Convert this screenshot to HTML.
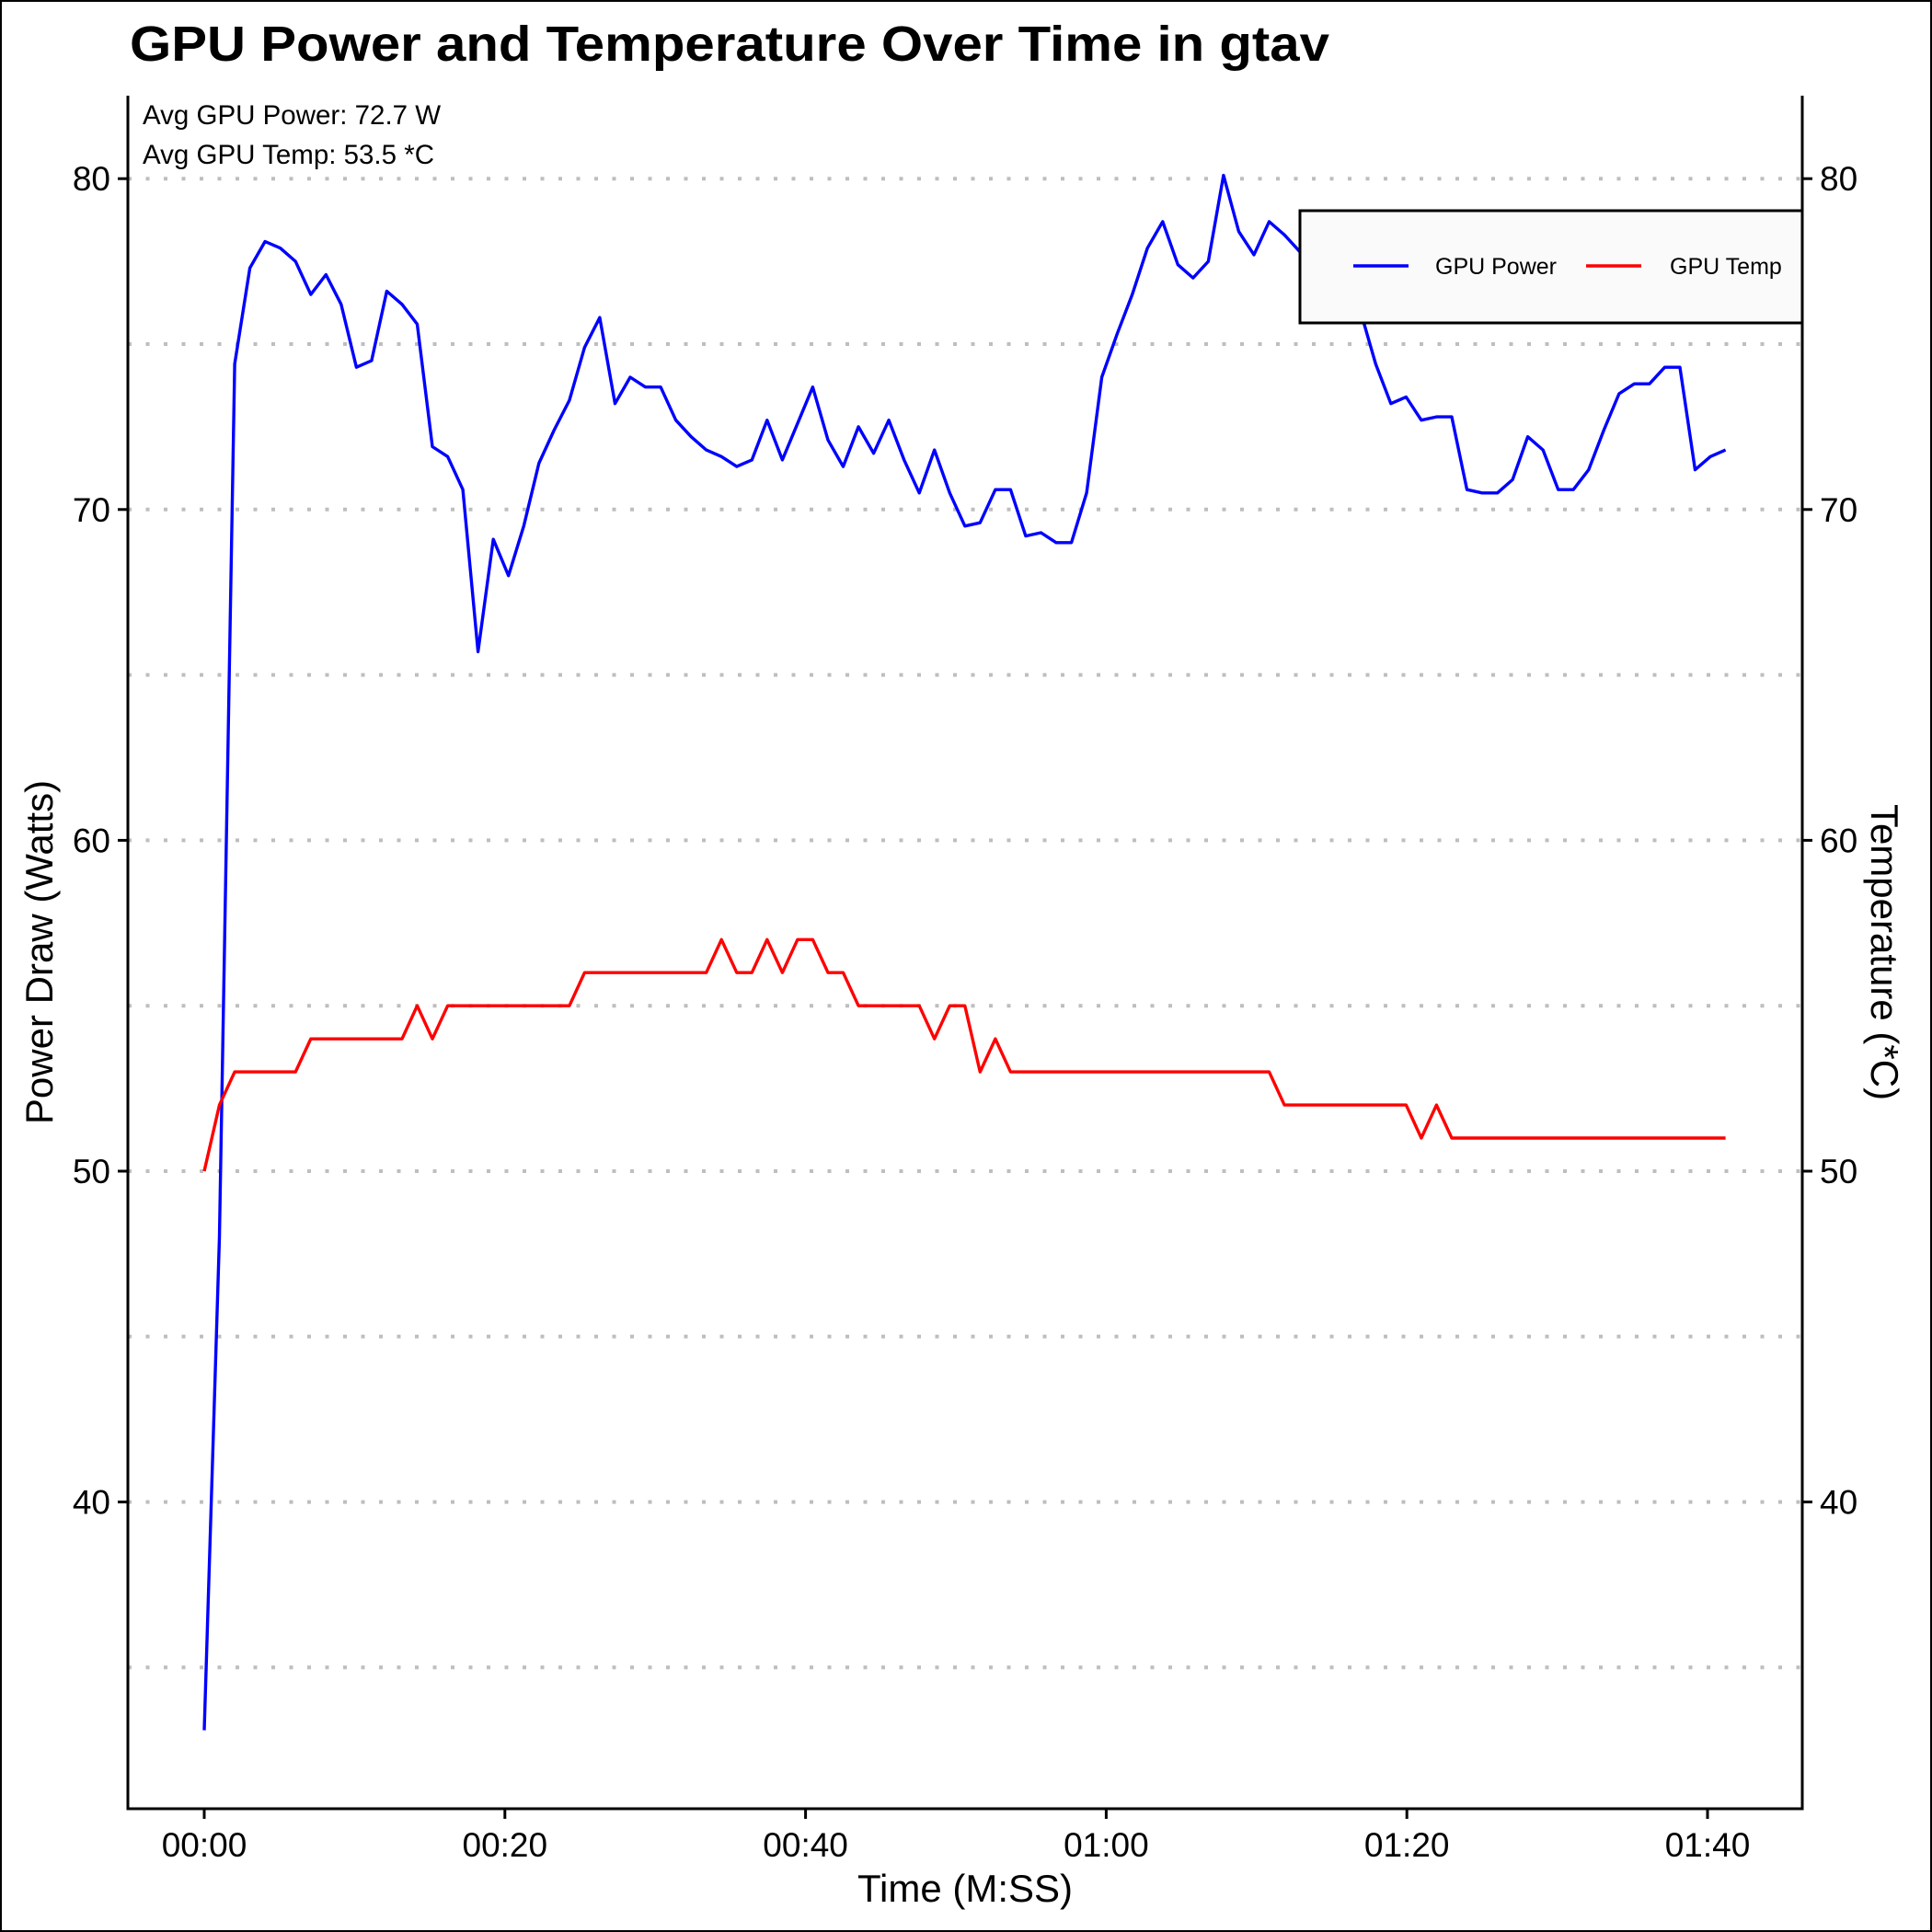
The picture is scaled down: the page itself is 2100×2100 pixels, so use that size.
<!DOCTYPE html>
<html><head><meta charset="utf-8"><style>
html,body{margin:0;padding:0;background:#fff;}
svg{display:block;font-family:"Liberation Sans",Arial,sans-serif;}
</style></head><body>
<svg id="chart" width="2100" height="2100" viewBox="0 0 2100 2100" xmlns="http://www.w3.org/2000/svg">
<rect x="1" y="1" width="2098" height="2098" fill="#fff" stroke="#000" stroke-width="2"/>
<text x="141" y="66" font-size="54" font-weight="bold" textLength="1304" lengthAdjust="spacingAndGlyphs">GPU Power and Temperature Over Time in gtav</text>
<g id="grid"></g>
<g id="series"></g>
<g id="axes"></g>
<text x="155" y="135" font-size="29.5">Avg GPU Power: 72.7 W</text>
<text x="155" y="178" font-size="29.5">Avg GPU Temp: 53.5 *C</text>
<text x="1049" y="2067" font-size="42" text-anchor="middle">Time (M:SS)</text>
<text transform="translate(57,1035) rotate(-90)" font-size="42" text-anchor="middle">Power Draw (Watts)</text>
<text transform="translate(2034,1035) rotate(90)" font-size="42" text-anchor="middle">Temperature (*C)</text>
<g>
<rect x="1413" y="229" width="546" height="122" fill="#fafafa" stroke="#000" stroke-width="3"/>
<line x1="1471" y1="289" x2="1531" y2="289" stroke="#0000ff" stroke-width="3.4"/>
<text x="1560" y="298" font-size="25">GPU Power</text>
<line x1="1724" y1="289" x2="1784" y2="289" stroke="#ff0000" stroke-width="3.4"/>
<text x="1815" y="298" font-size="25">GPU Temp</text>
</g>
</svg>
<script>
const powerValues = [33.1,48.0,74.4,77.3,78.1,77.9,77.5,76.5,77.1,76.2,74.3,74.5,76.6,76.2,75.6,71.9,71.6,70.6,65.7,69.1,68.0,69.5,71.4,72.4,73.3,74.9,75.8,73.2,74.0,73.7,73.7,72.7,72.2,71.8,71.6,71.3,71.5,72.7,71.5,72.6,73.7,72.1,71.3,72.5,71.7,72.7,71.5,70.5,71.8,70.5,69.5,69.6,70.6,70.6,69.2,69.3,69.0,69.0,70.5,74.0,75.3,76.5,77.9,78.7,77.4,77.0,77.5,80.1,78.4,77.7,78.7,78.3,77.8,77.3,76.8,76.5,76.0,74.4,73.2,73.4,72.7,72.8,72.8,70.6,70.5,70.5,70.9,72.2,71.8,70.6,70.6,71.2,72.4,73.5,73.8,73.8,74.3,74.3,71.2,71.6,71.8];
const tempValues = [50,52,53,53,53,53,53,54,54,54,54,54,54,54,55,54,55,55,55,55,55,55,55,55,55,56,56,56,56,56,56,56,56,56,57,56,56,57,56,57,57,56,56,55,55,55,55,55,54,55,55,53,54,53,53,53,53,53,53,53,53,53,53,53,53,53,53,53,53,53,53,52,52,52,52,52,52,52,52,52,51,52,51,51,51,51,51,51,51,51,51,51,51,51,51,51,51,51,51,51,51];
const sampleSeconds = 1.012;
const xTicks = [0,20,40,60,80,100];
const xTickLabels = ["00:00","00:20","00:40","01:00","01:20","01:40"];
const yTicks = [40,50,60,70,80];
const gridValues = [35,40,45,50,55,60,65,70,75,80];

const NS = "http://www.w3.org/2000/svg";
const X0 = 139, X1 = 1959, Y0 = 104, Y1 = 1966;
function xScale(t){ return 222 + t * 16.34; }
function yScale(v){ return 194.2 + (80 - v) * 35.96; }
function mk(tag, attrs, parent){
  const e = document.createElementNS(NS, tag);
  for (const k in attrs) e.setAttribute(k, attrs[k]);
  parent.appendChild(e);
  return e;
}
const grid = document.getElementById('grid');
gridValues.forEach(v => {
  const l = mk('line', {x1:X0, x2:X1, y1:yScale(v), y2:yScale(v), stroke:'#bebebe', 'stroke-width':4, 'stroke-dasharray':'4 15.5'}, grid);
  
  
});
const series = document.getElementById('series');
function pathFor(vals){
  return vals.map((v,i) => (i ? 'L' : 'M') + xScale(i*sampleSeconds).toFixed(1) + ' ' + yScale(v).toFixed(1)).join(' ');
}
const pp = mk('path', {d:pathFor(powerValues), fill:'none', stroke:'#0000ff', 'stroke-width':3.4, 'stroke-linejoin':'round'}, series);


const tp = mk('path', {d:pathFor(tempValues), fill:'none', stroke:'#ff0000', 'stroke-width':3.4, 'stroke-linejoin':'round'}, series);



const axes = document.getElementById('axes');
const la = mk('line', {x1:X0, x2:X0, y1:Y0, y2:Y1, stroke:'#000', 'stroke-width':3}, axes);


const ra = mk('line', {x1:X1, x2:X1, y1:Y0, y2:Y1, stroke:'#000', 'stroke-width':3}, axes);


const ba = mk('line', {x1:X0-1.5, x2:X1+1.5, y1:Y1, y2:Y1, stroke:'#000', 'stroke-width':3}, axes);


yTicks.forEach(v => {
  const y = yScale(v);
  const t1 = mk('line', {x1:X0-11, x2:X0, y1:y, y2:y, stroke:'#000', 'stroke-width':3}, axes);
  
  
  const l1 = mk('text', {x:X0-19, y:y+13, 'font-size':37, 'text-anchor':'end', fill:'#000'}, axes);
  l1.textContent = String(v);
  
  
  const t2 = mk('line', {x1:X1, x2:X1+11, y1:y, y2:y, stroke:'#000', 'stroke-width':3}, axes);
  
  
  const l2 = mk('text', {x:X1+19, y:y+13, 'font-size':37, 'text-anchor':'start', fill:'#000'}, axes);
  l2.textContent = String(v);
  
  
});
xTicks.forEach((t,i) => {
  const x = xScale(t);
  const tk = mk('line', {x1:x, x2:x, y1:Y1, y2:Y1+11, stroke:'#000', 'stroke-width':3}, axes);
  
  
  const lb = mk('text', {x:x, y:2018, 'font-size':37, 'text-anchor':'middle', fill:'#000'}, axes);
  lb.textContent = xTickLabels[i];
  
  
});
</script>
</body></html>
